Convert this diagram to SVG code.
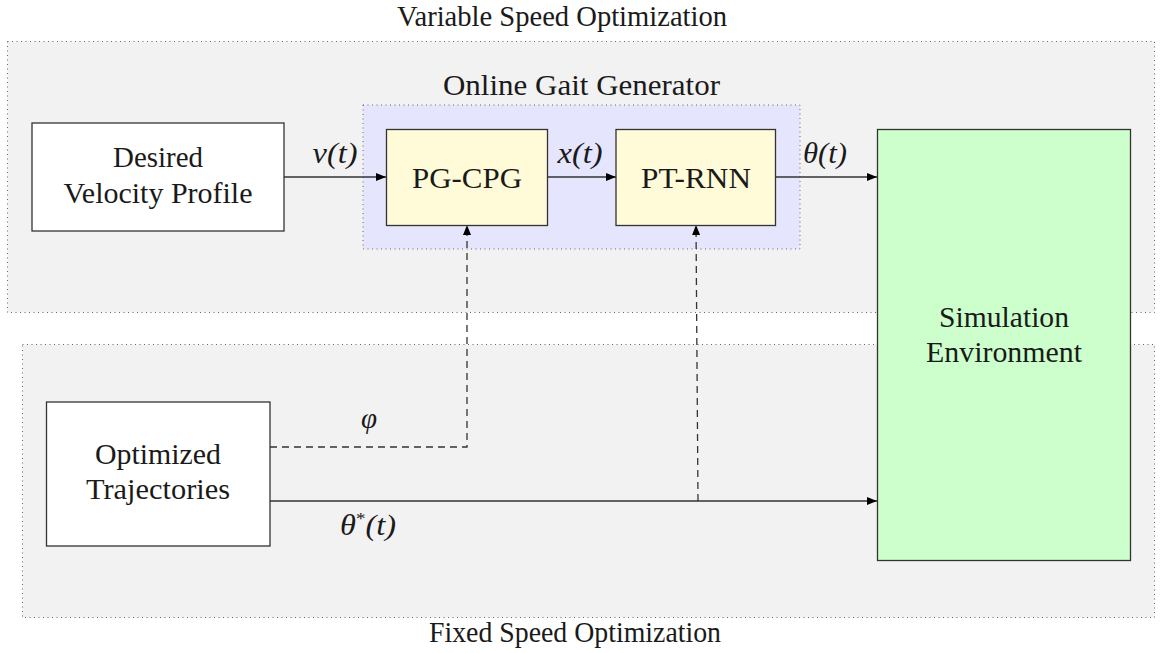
<svg xmlns="http://www.w3.org/2000/svg" width="1160" height="653" viewBox="0 0 1160 653">
<style>
  .region { fill: #f2f2f2; stroke: #666; stroke-width: 1; stroke-dasharray: 1 3.5; }
  .group { fill: #e5e5fe; stroke: #666; stroke-width: 1; stroke-dasharray: 1 3.5; }
  .box { stroke: #333; stroke-width: 1.3; }
  .white { fill: #ffffff; }
  .yellow { fill: #fffad7; }
  .green { fill: #ccffcc; }
  text { font-family: "Liberation Serif", "Times New Roman", serif; font-size: 29px; fill: #1a1a1a; text-anchor: middle; }
  .math { font-style: italic; }
  .conn { fill: none; stroke: #333; stroke-width: 1.3; }
  .dash { stroke-dasharray: 7 5; }
</style>
<defs>
  <marker id="arr" viewBox="0 0 10 8" refX="10" refY="4" markerWidth="10" markerHeight="8" markerUnits="userSpaceOnUse" orient="auto">
    <path d="M0,0 L10,4 L0,8 z" fill="#000"/>
  </marker>
</defs>

<g id="region-variable">
  <rect class="region" x="7.5" y="41.5" width="1147" height="271"/>
  <text x="562" y="26" textLength="330" lengthAdjust="spacingAndGlyphs">Variable Speed Optimization</text>
</g>
<g id="region-fixed">
  <rect class="region" x="22.5" y="344.5" width="1132" height="273"/>
  <text x="575" y="642" textLength="292" lengthAdjust="spacingAndGlyphs">Fixed Speed Optimization</text>
</g>
<g id="online-gait-generator">
  <rect class="group" x="363" y="105" width="437" height="144"/>
  <text x="581.5" y="95" textLength="277" lengthAdjust="spacingAndGlyphs">Online Gait Generator</text>
</g>

<g id="connectors">
  <path class="conn" d="M284,177 H386" marker-end="url(#arr)"/>
  <path class="conn" d="M547,177 H616" marker-end="url(#arr)"/>
  <path class="conn" d="M775,177 H877" marker-end="url(#arr)"/>
  <path class="conn dash" d="M270,447 H467 V225" marker-end="url(#arr)"/>
  <path class="conn" d="M270,501 H877" marker-end="url(#arr)"/>
  <path class="conn dash" d="M698,501 L696,225" marker-end="url(#arr)"/>
  <text class="math" x="335" y="163" textLength="45" lengthAdjust="spacingAndGlyphs">v(t)</text>
  <text class="math" x="580" y="163" textLength="45" lengthAdjust="spacingAndGlyphs">x(t)</text>
  <text class="math" x="825" y="163" textLength="44" lengthAdjust="spacingAndGlyphs">θ(t)</text>
  <text class="math" x="369" y="428">φ</text>
  <text class="math" x="368" y="535" textLength="56" lengthAdjust="spacingAndGlyphs">θ<tspan font-style="normal" font-size="17" dy="-11">*</tspan><tspan dy="11">(t)</tspan></text>
</g>

<g id="desired-velocity-profile">
  <rect class="box white" x="32" y="123" width="252" height="108"/>
  <text x="158" y="167" textLength="90" lengthAdjust="spacingAndGlyphs">Desired</text>
  <text x="158" y="203" textLength="189" lengthAdjust="spacingAndGlyphs">Velocity Profile</text>
</g>
<g id="pg-cpg">
  <rect class="box yellow" x="386.5" y="129.5" width="161" height="96"/>
  <text x="467" y="188" textLength="110" lengthAdjust="spacingAndGlyphs">PG-CPG</text>
</g>
<g id="pt-rnn">
  <rect class="box yellow" x="616" y="129.5" width="159.5" height="96"/>
  <text x="696" y="188" textLength="110" lengthAdjust="spacingAndGlyphs">PT-RNN</text>
</g>
<g id="simulation-environment">
  <rect class="box green" x="877.5" y="129.5" width="253" height="431"/>
  <text x="1004" y="327" textLength="130" lengthAdjust="spacingAndGlyphs">Simulation</text>
  <text x="1004" y="362" textLength="156" lengthAdjust="spacingAndGlyphs">Environment</text>
</g>
<g id="optimized-trajectories">
  <rect class="box white" x="46.5" y="402" width="223.5" height="144"/>
  <text x="158" y="464" textLength="126" lengthAdjust="spacingAndGlyphs">Optimized</text>
  <text x="158" y="499" textLength="144" lengthAdjust="spacingAndGlyphs">Trajectories</text>
</g>
</svg>
